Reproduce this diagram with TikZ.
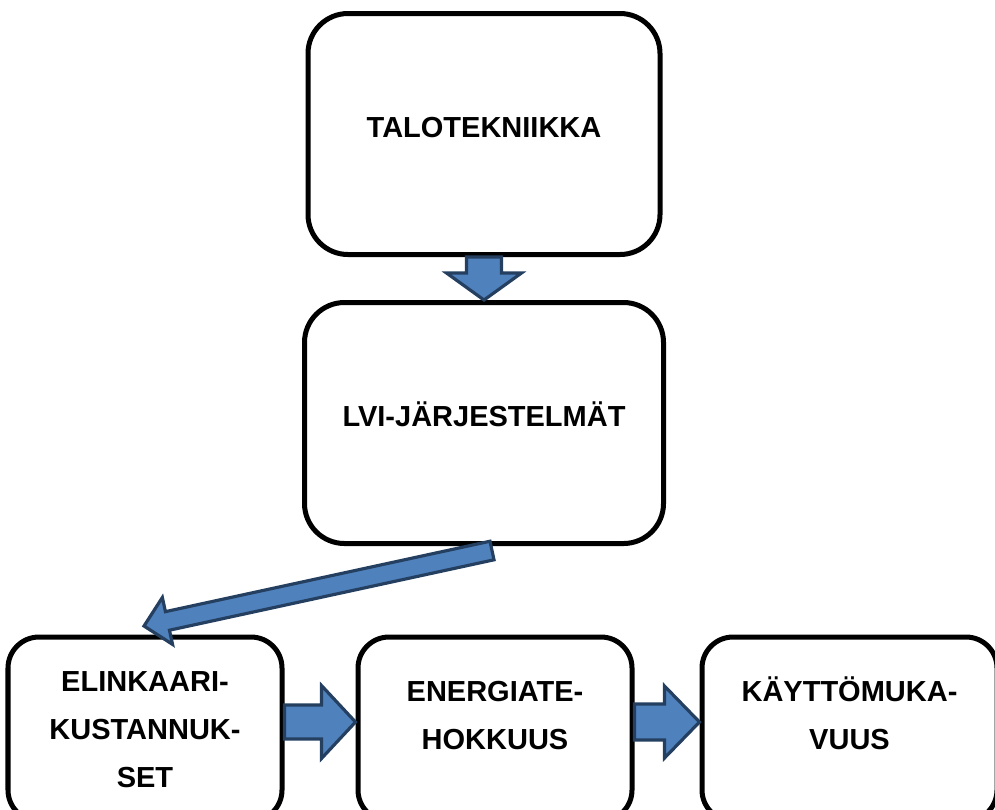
\documentclass[tikz,border=0pt]{standalone}
\usepackage{fontspec}
\setmainfont{Liberation Sans}
\usetikzlibrary{positioning, calc}

\definecolor{arrowblue}{HTML}{4F81BD}
\definecolor{arrowedge}{HTML}{243F60}

% block arrow: from, to, half shaft width, half head width, head length
\newcommand{\blockarrow}[5]{%
  \coordinate (headbase) at ($(#2)!#5!(#1)$);
  \draw[blockarrow] ($(#1)!#3!90:(#2)$) -- ($(headbase)!#3!-90:(#1)$) -- ($(headbase)!#4!-90:(#1)$) -- (#2)
    -- ($(headbase)!#4!90:(#1)$) -- ($(headbase)!#3!90:(#1)$) -- ($(#1)!#3!-90:(#2)$) -- cycle;
}

\begin{document}
\begin{tikzpicture}[node distance=7cm, thick]
    % Define block styles
    \tikzstyle{block} = [rectangle, draw, line width=2.85pt, fill=white, align=center, inner sep=0pt, font=\bfseries\fontsize{16.5}{27.3}\selectfont]
    \tikzstyle{bigblock} = [block, rounded corners=0.8cm, minimum height=4.82cm, text height=0.41cm, text depth=0.28cm]
    \tikzstyle{smallblock} = [block, rounded corners=0.62cm, minimum width=5.48cm, minimum height=3.68cm, text height=1.37cm, text depth=0.55cm]
    \tikzstyle{blockarrow} = [fill=arrowblue, draw=arrowedge, line width=1.8pt, line join=miter]

    % Fix the canvas
    \useasboundingbox (0,0) rectangle (19.9,-16.18);
    \clip (0,0) rectangle (19.9,-16.18);

    % Place nodes
    \node [bigblock, minimum width=7.04cm] (talo) at (9.68,-2.68) {TALOTEKNIIKKA};
    \node [bigblock, minimum width=7.18cm, node distance=5.78cm, below of=talo] (lvi) {LVI-JÄRJESTELMÄT};
    \node [smallblock, text height=2.33cm, text depth=0cm, node distance=6.12cm, below of=lvi, xshift=-6.78cm] (elinkaari) {ELINKAARI-\\KUSTANNUK-\\SET};
    \node [smallblock, right of=elinkaari] (energia) {ENERGIATE-\\HOKKUUS};
    \node [smallblock, minimum width=5.9cm, node distance=7.09cm, right of=energia] (kaytto) {KÄYTTÖMUKA-\\VUUS};

    % Draw connections as block arrows
    \coordinate (lvi-out) at ($(lvi.south)+(0.16,-0.09)$);
    \coordinate (elinkaari-in) at ($(elinkaari.north)+(-0.02,0.17)$);
    \coordinate (elinkaari-out) at ($(elinkaari.east)+(0,0.14)$);
    \coordinate (energia-in) at ($(energia.west)+(0,0.14)$);
    \coordinate (energia-out) at ($(energia.east)+(0,0.14)$);
    \coordinate (kaytto-in) at ($(kaytto.west)+(0,0.14)$);
    \blockarrow{talo.south}{lvi.north}{0.35cm}{0.75cm}{0.54cm}
    \blockarrow{lvi-out}{elinkaari-in}{0.19cm}{0.48cm}{0.48cm}
    \blockarrow{elinkaari-out}{energia-in}{0.34cm}{0.73cm}{0.68cm}
    \blockarrow{energia-out}{kaytto-in}{0.36cm}{0.72cm}{0.7cm}
\end{tikzpicture}
\end{document}
